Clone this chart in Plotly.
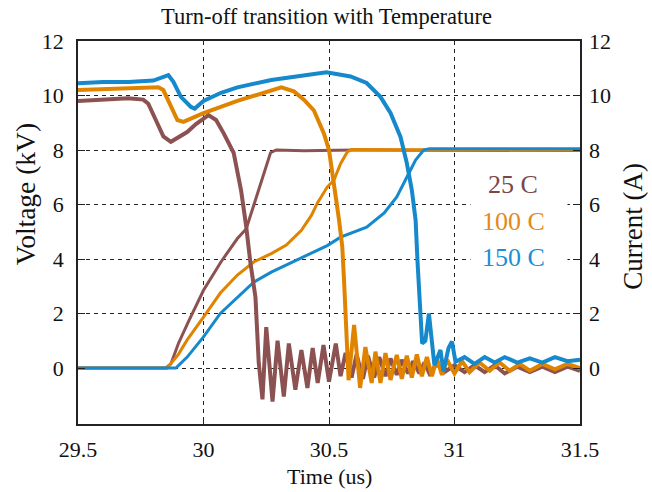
import plotly.graph_objects as go

# ---------------- data ----------------
# 25 C current (A)
t_i25 = [29.5, 29.6, 29.7, 29.76, 29.78, 29.81, 29.84, 29.87, 29.9, 29.935, 29.97, 30.0, 30.02,
         30.05, 30.08, 30.12, 30.15, 30.17, 30.187, 30.207, 30.22, 30.235,
         30.25, 30.275, 30.295, 30.32, 30.34, 30.366, 30.39, 30.414, 30.435, 30.455, 30.478,
         30.5, 30.527, 30.546, 30.566, 30.59, 30.61, 30.635, 30.655, 30.68, 30.7, 30.725,
         30.745, 30.77, 30.79, 30.815, 30.835, 30.86, 30.88, 30.9, 30.93, 30.96, 31.0,
         31.04, 31.08, 31.12, 31.16, 31.2, 31.25, 31.3, 31.35, 31.4, 31.45, 31.5]
i25 = [9.8, 9.85, 9.9, 9.85, 9.7, 9.1, 8.5, 8.3, 8.45, 8.66, 8.95, 9.17, 9.28,
       9.1, 8.62, 7.9, 6.5, 5.2, 3.85, 2.6, 0.2, -1.15,
       1.5, -1.23, 1.0, -1.05, 0.9, -0.8, 0.66, -0.73, 0.73, -0.55, 0.84,
       -0.5, 0.9, -0.3, 0.55, -0.35, 0.5, -0.4, 0.45, -0.35, 0.4, -0.3,
       0.35, -0.25, 0.3, -0.2, 0.25, -0.2, 0.2, -0.2, 0.15, -0.15, 0.1,
       -0.15, 0.1, -0.15, 0.1, -0.2, 0.05, -0.15, 0.05, -0.15, 0.05, -0.1]

# 25 C voltage (kV)
t_v25 = [29.5, 29.85, 29.87, 29.9, 29.94, 29.976, 30.0, 30.07, 30.135, 30.17, 30.215,
         30.24, 30.267, 30.29, 30.4, 30.6, 31.0, 31.5]
v25 = [0.0, 0.0, 0.15, 0.9, 1.7, 2.4, 2.85, 3.9, 4.75, 5.1, 6.4,
       7.15, 7.9, 8.0, 7.97, 8.0, 8.0, 7.98]

# 100 C current (A)
t_i100 = [29.5, 29.7, 29.82, 29.84, 29.87, 29.896, 29.92, 30.0, 30.135, 30.27, 30.31, 30.36,
          30.4, 30.44, 30.48, 30.5, 30.515, 30.527, 30.54, 30.553, 30.56, 30.567, 30.573,
          30.578, 30.6, 30.624, 30.645, 30.67, 30.685, 30.705, 30.725, 30.745, 30.77,
          30.79, 30.81, 30.83, 30.85, 30.87, 30.89, 30.91, 30.93, 30.95, 30.97, 31.0,
          31.03, 31.06, 31.1, 31.14, 31.18, 31.22, 31.26, 31.3, 31.35, 31.4, 31.45, 31.5]
i100 = [10.2, 10.25, 10.3, 10.2, 9.6, 9.1, 9.03, 9.35, 9.8, 10.2, 10.3, 10.15,
        9.85, 9.45, 8.6, 8.0, 7.15, 6.27, 5.43, 4.44, 3.2, 1.65, 0.4,
        -0.45, 1.58, -0.73, 0.77, -0.55, 0.6, -0.55, 0.55, -0.44, 0.48,
        -0.4, 0.45, -0.35, 0.5, -0.3, 0.4, -0.3, 0.35, -0.25, 0.3, -0.2,
        0.25, -0.15, 0.2, -0.1, 0.2, -0.1, 0.15, -0.1, 0.15, -0.05, 0.15, 0.0]

# 100 C voltage (kV)
t_v100 = [29.5, 29.855, 29.9, 29.935, 30.0, 30.067, 30.135, 30.2, 30.27, 30.33, 30.39,
          30.43, 30.454, 30.493, 30.52, 30.546, 30.573, 30.59, 31.0, 31.5]
v100 = [0.0, 0.0, 0.5, 1.03, 1.87, 2.75, 3.41, 3.89, 4.2, 4.51, 5.05,
        5.6, 6.06, 6.64, 6.9, 7.5, 7.93, 8.02, 8.0, 8.0]

# 150 C current (A)
t_i150 = [29.5, 29.6, 29.7, 29.8, 29.86, 29.88, 29.91, 29.95, 29.965, 30.0, 30.07, 30.135,
          30.27, 30.4, 30.49, 30.586, 30.65, 30.705, 30.745, 30.785, 30.81, 30.83, 30.845,
          30.853, 30.86, 30.871, 30.884, 30.898, 30.92, 30.944, 30.956, 30.976, 30.99,
          31.004, 31.04, 31.08, 31.12, 31.16, 31.2, 31.25, 31.3, 31.35, 31.4, 31.45, 31.5]
i150 = [10.45, 10.5, 10.5, 10.55, 10.75, 10.5, 9.95, 9.58, 9.52, 9.8, 10.1, 10.3,
        10.57, 10.75, 10.85, 10.7, 10.46, 9.95, 9.36, 8.48, 7.52, 6.53, 5.43,
        3.85, 2.6, 0.9, 1.0, 2.0, 0.1, 0.66, -0.13, 0.73, 0.97,
        0.23, 0.4, 0.15, 0.4, 0.2, 0.4, 0.2, 0.35, 0.2, 0.4, 0.25, 0.3]

# 150 C voltage (kV)
t_v150 = [29.5, 29.89, 29.935, 30.0, 30.067, 30.135, 30.2, 30.27, 30.4, 30.495, 30.546,
          30.65, 30.72, 30.77, 30.81, 30.845, 30.877, 30.9, 31.5]
v150 = [0.0, 0.0, 0.4, 1.14, 2.0, 2.6, 3.15, 3.52, 4.07, 4.5, 4.8,
        5.17, 5.69, 6.28, 7.0, 7.63, 8.0, 8.05, 8.05]

temps = ["25 C", "100 C", "150 C"]
colors = ["#8C5252", "#E08400", "#1589CB"]
text_colors = ["#7A4646", "#E38A1A", "#1A8FD4"]

x_ticks = [29.5, 30, 30.5, 31, 31.5]
x_tick_text = ["29.5", "30", "30.5", "31", "31.5"]
y_ticks = [0, 2, 4, 6, 8, 10, 12]

# ---------------- figure ----------------
FONT = "Liberation Serif, Times New Roman, serif"
fig = go.Figure()

volt = [(t_v25, v25), (t_v100, v100), (t_v150, v150)]
curr = [(t_i25, i25), (t_i100, i100), (t_i150, i150)]

for (tv, vv), name, c in zip(volt, temps, colors):
    fig.add_trace(go.Scatter(x=tv, y=vv, mode="lines", name=name + " V",
                             line=dict(color=c, width=3), yaxis="y", showlegend=False))
for (ti, iv), name, c in zip(curr, temps, colors):
    fig.add_trace(go.Scatter(x=ti, y=iv, mode="lines", name=name + " I",
                             line=dict(color=c, width=4), yaxis="y2", showlegend=False))

yr = [-2.055, 12]
fig.update_layout(
    width=652, height=492,
    margin=dict(l=78, r=72, t=41, b=68),
    paper_bgcolor="white", plot_bgcolor="white",
    font=dict(family=FONT, size=22, color="#111"),
    xaxis=dict(range=[29.5, 31.5], tickvals=x_ticks, ticktext=x_tick_text,
               showgrid=True, gridcolor="#222", gridwidth=1, griddash="4px,4px",
               zeroline=False, showline=True, linecolor="#222", linewidth=1.5, mirror=True,
               ticks="inside", ticklen=7, tickcolor="#222", ticklabelstandoff=5,
               tickfont=dict(size=22)),
    yaxis=dict(range=yr, tickvals=y_ticks, showgrid=True, gridcolor="#222", gridwidth=1,
               griddash="4px,4px", zeroline=False, showline=True, linecolor="#222",
               linewidth=1.5, mirror=True, ticks="inside", ticklen=7, tickcolor="#222",
               ticklabelstandoff=8, tickfont=dict(size=22)),
    yaxis2=dict(range=yr, tickvals=y_ticks, overlaying="y", side="right", showgrid=False,
                zeroline=False, showline=False, ticks="inside", ticklen=7, tickcolor="#222",
                ticklabelstandoff=8, tickfont=dict(size=22)),
)

# white box behind the temperature labels (interrupts grid lines)
fig.add_shape(type="rect", xref="x", yref="y", x0=31.064, x1=31.45, y0=3.35, y1=7.45,
              fillcolor="white", line=dict(width=0), layer="between")

label_y = [6.72, 5.36, 4.04]
for name, c, yy in zip(temps, text_colors, label_y):
    fig.add_annotation(x=31.235, y=yy, xref="x", yref="y", text=name, showarrow=False,
                       font=dict(family=FONT, size=26, color=c), xanchor="center",
                       yanchor="middle")

# titles
fig.add_annotation(x=0.496, y=1.0627, xref="paper", yref="paper",
                   text="Turn-off transition with Temperature", showarrow=False,
                   font=dict(family=FONT, size=22.5, color="#111"),
                   xanchor="center", yanchor="middle")
fig.add_annotation(x=0.5, y=-0.138, xref="paper", yref="paper", text="Time (us)",
                   showarrow=False, font=dict(family=FONT, size=22, color="#111"),
                   xanchor="center", yanchor="middle")
fig.add_annotation(x=-0.1056, y=0.6, xref="paper", yref="paper", text="Voltage (kV)",
                   showarrow=False, textangle=-90,
                   font=dict(family=FONT, size=27.5, color="#111"),
                   xanchor="center", yanchor="middle")
fig.add_annotation(x=1.1056, y=0.515, xref="paper", yref="paper", text="Current (A)",
                   showarrow=False, textangle=-90,
                   font=dict(family=FONT, size=27, color="#111"),
                   xanchor="center", yanchor="middle")

fig.write_html("out.html")
